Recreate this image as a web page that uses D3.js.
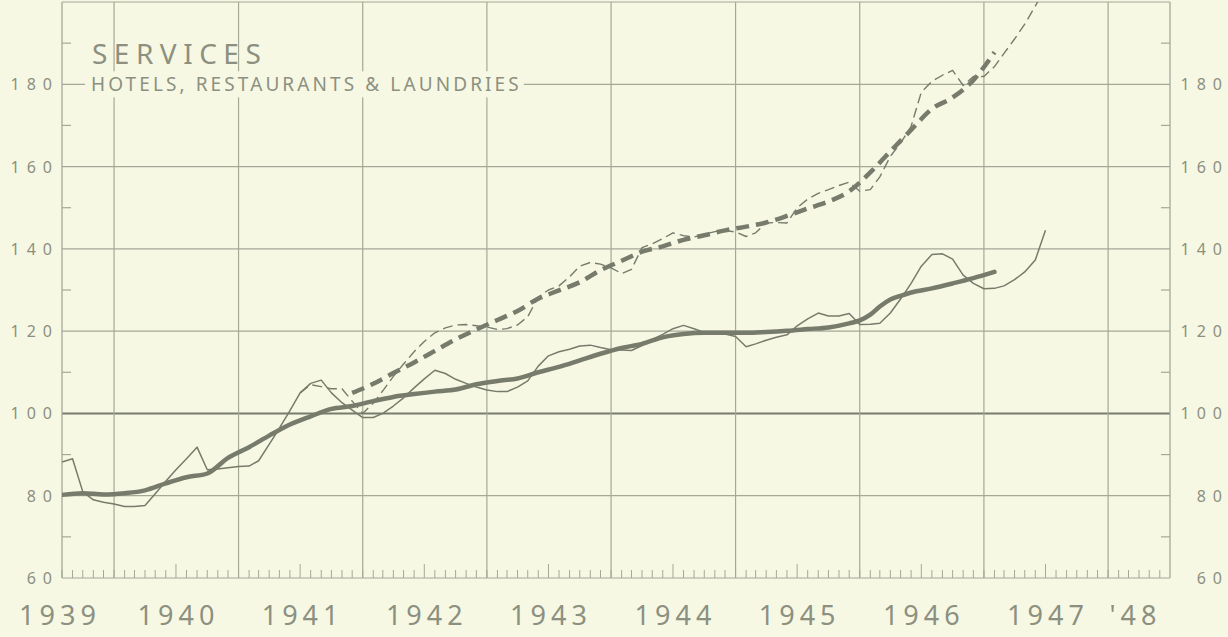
<!DOCTYPE html>
<html>
<head>
<meta charset="utf-8">
<script src="https://cdn.jsdelivr.net/npm/d3@7"></script>
<style>
body { margin:0; background:#f7f8e4; }
svg { display:block; }
</style>
</head>
<body>
<script>

// thin solid line, monthly from Aug 1939
var thinSolidStart = "1939-08";
var thinSolidValues = [88.2,89.0,81.0,79.0,78.4,
  78.0,77.4,77.4,77.6,80.5,83.5,86.3,89.0,91.8,86.3,86.5,86.8,
  87.1,87.2,88.5,92.5,96.4,100.7,105.0,107.3,108.1,105.0,102.6,100.8,
  99.0,99.0,100.0,101.8,103.8,106.2,108.4,110.5,109.7,108.3,107.3,106.4,
  105.7,105.3,105.3,106.4,107.9,111.5,114.0,115.0,115.6,116.4,116.6,116.0,
  115.5,115.4,115.3,116.5,118.0,119.2,120.6,121.4,120.6,119.7,119.5,119.3,
  118.7,116.2,116.9,117.8,118.5,119.1,121.3,123.0,124.4,123.7,123.7,124.3,
  121.6,121.7,121.9,124.4,127.8,131.6,135.8,138.6,138.8,137.5,133.6,131.6,
  130.3,130.4,131.0,132.5,134.4,137.3,144.5];

// thin dashed line, monthly from Jul 1941
var thinDashStart = "1941-07";
var thinDashValues = [105.0,107.0,106.5,106.0,106.0,103.0,
  100.0,102.5,105.5,109.0,112.0,115.0,117.5,119.6,120.8,121.5,121.6,121.3,
  121.0,120.4,120.6,121.5,123.5,128.3,130.0,131.0,133.2,135.8,136.7,136.3,
  135.4,134.0,135.0,140.3,141.2,142.5,143.9,143.2,142.9,143.5,144.2,144.5,
  144.1,143.0,143.9,146.3,146.4,146.3,150.0,152.1,153.5,154.4,155.4,156.2,
  154.0,154.4,157.5,162.5,165.7,169.8,178.1,180.7,182.2,183.4,179.7,181.9,
  181.9,184.3,187.5,191.0,194.6,199.0,203.5];

// thick solid (trend)
var thickSolidDates = ["1939-08","1939-10","1939-12","1940-02","1940-04","1940-06","1940-08","1940-10","1940-12",
  "1941-02","1941-04","1941-06","1941-08","1941-10","1941-12","1942-02","1942-04","1942-06","1942-08","1942-10","1942-12",
  "1943-02","1943-04","1943-06","1943-08","1943-10","1943-12","1944-02","1944-04","1944-06","1944-08","1944-10","1944-12",
  "1945-02","1945-04","1945-06","1945-08","1945-10","1945-12","1946-01","1946-02","1946-03","1946-04","1946-05","1946-06",
  "1946-08","1946-10","1946-12","1947-02"];
var thickSolidValues = [80.2,80.6,80.3,80.6,81.3,83.0,84.5,85.4,89.2,
  91.8,94.6,97.3,99.3,101.1,101.8,103.0,104.0,104.7,105.3,105.8,107.1,
  107.9,108.5,110.0,111.3,112.9,114.5,115.9,116.9,118.5,119.3,119.6,119.6,
  119.6,119.8,120.1,120.5,120.9,121.9,122.6,124.0,126.0,127.7,128.6,129.4,
  130.4,131.6,132.9,134.4];

// thick dashed (trend)
var thickDashDates = ["1941-12","1942-02","1942-04","1942-06","1942-08","1942-10","1942-12",
  "1943-02","1943-04","1943-06","1943-08","1943-10","1943-12","1944-02","1944-04","1944-06","1944-08","1944-10","1944-12",
  "1945-02","1945-04","1945-06","1945-08","1945-10","1945-12","1946-02","1946-04","1946-06","1946-08","1946-10","1946-12","1947-02"];
var thickDashValues = [105.0,107.2,109.8,112.4,115.2,118.0,120.4,
  122.7,124.9,127.9,129.9,131.9,134.8,137.1,139.3,140.6,142.2,143.3,144.5,
  145.4,146.4,148.0,149.8,151.5,154.0,158.6,163.7,168.9,174.0,176.8,181.0,187.8];

var yLabels = [60,80,100,120,140,160,180];
var yMinor = [70,90,110,130,150,170,190];
var yearLabels = ["1939","1940","1941","1942","1943","1944","1945","1946","1947","'48"];
var title = "SERVICES";
var subtitle = "HOTELS, RESTAURANTS & LAUNDRIES";

var W = 1228, H = 637;
var bg = "#f7f8e4", ink = "#767b6b", gridc = "#a4a897", textc = "#8c9080";
var plotL = 62, plotR = 1170, plotT = 2, plotB = 578;

var parseMonth = d3.timeParse("%Y-%m");

var x = d3.scaleTime()
  .domain([new Date(1939,7,1), new Date(1948,6,1)])
  .range([plotL, plotR]);
var y = d3.scaleLinear().domain([60,200]).range([plotB, plotT]);

function monthly(start, values){
  var s = parseMonth(start);
  return values.map(function(v,i){ return {date: d3.timeMonth.offset(s,i), value: v}; });
}
function dated(dates, values){
  return dates.map(function(d,i){ return {date: parseMonth(d), value: values[i]}; });
}

var svg = d3.select("body").append("svg")
  .attr("width", W).attr("height", H)
  .style("font-family", "'Noto Sans', sans-serif");

svg.append("rect").attr("width", W).attr("height", H).attr("fill", bg);

svg.append("clipPath").attr("id","plot")
  .append("rect").attr("x", plotL).attr("y", plotT).attr("width", plotR-plotL).attr("height", plotB-plotT);

// horizontal grid
svg.append("g").selectAll("line").data(yLabels.concat([200]))
  .enter().append("line")
  .attr("x1", plotL).attr("x2", plotR)
  .attr("y1", function(d){ return y(d); }).attr("y2", function(d){ return y(d); })
  .attr("stroke", function(d){ return d==100 ? ink : gridc; })
  .attr("stroke-width", function(d){ return d==100 ? 2 : 1.2; });

// vertical grid at each January
var janTicks = d3.timeYear.range(new Date(1940,0,1), new Date(1948,1,1));
svg.append("g").selectAll("line").data(janTicks)
  .enter().append("line")
  .attr("x1", function(d){ return x(d); }).attr("x2", function(d){ return x(d); })
  .attr("y1", plotT).attr("y2", plotB)
  .attr("stroke", gridc).attr("stroke-width", 1.2);

// frame sides
svg.append("g").selectAll("line").data([plotL, plotR])
  .enter().append("line")
  .attr("x1", function(d){ return d; }).attr("x2", function(d){ return d; })
  .attr("y1", plotT).attr("y2", plotB)
  .attr("stroke", gridc).attr("stroke-width", 1.3);

// month ticks along the bottom
var months = d3.timeMonth.range(new Date(1939,7,1), new Date(1948,6,1));
svg.append("g").selectAll("line").data(months)
  .enter().append("line")
  .attr("x1", function(d){ return x(d); }).attr("x2", function(d){ return x(d); })
  .attr("y1", plotB)
  .attr("y2", function(d){ return d.getMonth()==6 ? plotB-14 : plotB-8; })
  .attr("stroke", gridc).attr("stroke-width", 1);

// small ticks at odd tens on both edges
svg.append("g").selectAll("line").data(yMinor)
  .enter().append("line")
  .attr("x1", plotL).attr("x2", plotL+9)
  .attr("y1", function(d){ return y(d); }).attr("y2", function(d){ return y(d); })
  .attr("stroke", gridc).attr("stroke-width", 1.2);
svg.append("g").selectAll("line").data(yMinor)
  .enter().append("line")
  .attr("x1", plotR-9).attr("x2", plotR)
  .attr("y1", function(d){ return y(d); }).attr("y2", function(d){ return y(d); })
  .attr("stroke", gridc).attr("stroke-width", 1.2);

// y labels
svg.append("g").selectAll("text").data(yLabels)
  .enter().append("text")
  .attr("x", 52).attr("y", function(d){ return y(d)+6; })
  .attr("text-anchor","end")
  .attr("font-size", 16).attr("letter-spacing", 7).attr("dx", 7)
  .attr("fill", textc)
  .text(function(d){ return d; });
svg.append("g").selectAll("text").data(yLabels)
  .enter().append("text")
  .attr("x", 1222).attr("y", function(d){ return y(d)+6; })
  .attr("text-anchor","end")
  .attr("font-size", 16).attr("letter-spacing", 7).attr("dx", 7)
  .attr("fill", textc)
  .text(function(d){ return d; });

// year labels, centred on mid-year ('48 in its visible part)
svg.append("g").selectAll("text").data(yearLabels)
  .enter().append("text")
  .attr("x", function(d,i){
    var mid = x(new Date(1939+i,6,1));
    return i==yearLabels.length-1 ? x(new Date(1948,3,1)) - 6 : mid + (i==0 ? 6 : 0);
  })
  .attr("y", 625)
  .attr("text-anchor","middle")
  .attr("font-size", 27).attr("letter-spacing", 5).attr("dx", 2.5)
  .attr("fill", textc)
  .text(function(d){ return d; });

// title
svg.append("text")
  .attr("x", 92).attr("y", 64)
  .attr("font-size", 28).attr("letter-spacing", 6.5)
  .attr("fill", textc)
  .text(title);

var sub = svg.append("g");
var subBg = sub.append("rect").attr("fill", bg);
var subText = sub.append("text")
  .attr("x", 91).attr("y", y(180)+7)
  .attr("font-size", 19).attr("letter-spacing", 3.1)
  .attr("fill", textc)
  .text(subtitle);
var bb = subText.node().getBBox();
subBg.attr("x", bb.x-6).attr("y", bb.y).attr("width", bb.width+8).attr("height", bb.height);

// series
var lineCurve = d3.line()
  .x(function(d){ return x(d.date); })
  .y(function(d){ return y(d.value); });
var lineSmooth = d3.line()
  .x(function(d){ return x(d.date); })
  .y(function(d){ return y(d.value); })
  .curve(d3.curveMonotoneX);

var plot = svg.append("g").attr("clip-path","url(#plot)");

plot.append("path")
  .datum(monthly(thinSolidStart, thinSolidValues))
  .attr("d", lineCurve)
  .attr("fill","none").attr("stroke", ink).attr("stroke-width", 1.5)
  .attr("stroke-linejoin","round");

plot.append("path")
  .datum(monthly(thinDashStart, thinDashValues))
  .attr("d", lineCurve)
  .attr("fill","none").attr("stroke", ink).attr("stroke-width", 1.4)
  .attr("stroke-dasharray","10,5")
  .attr("stroke-linejoin","round");

plot.append("path")
  .datum(dated(thickSolidDates, thickSolidValues))
  .attr("d", lineSmooth)
  .attr("fill","none").attr("stroke", ink).attr("stroke-width", 4.5)
  .attr("stroke-linecap","round").attr("stroke-linejoin","round");

plot.append("path")
  .datum(dated(thickDashDates, thickDashValues))
  .attr("d", lineSmooth)
  .attr("fill","none").attr("stroke", ink).attr("stroke-width", 4.5)
  .attr("stroke-dasharray","13,7")
  .attr("stroke-linejoin","round");

</script>
</body>
</html>
